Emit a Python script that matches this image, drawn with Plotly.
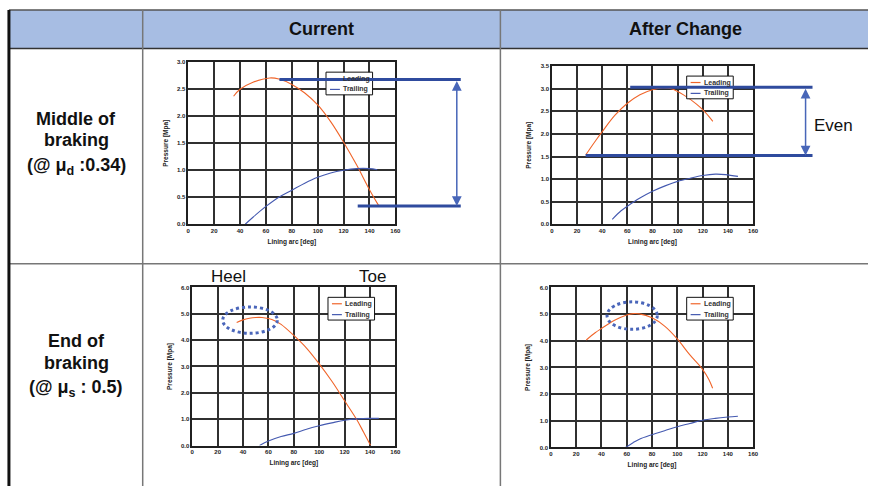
import plotly.graph_objects as go

# ---------------- data ----------------
x_ticks = [0, 20, 40, 60, 80, 100, 120, 140, 160]
series_names = ["Leading", "Trailing"]

# Current, middle of braking
cur_mid_lead_x = [35, 40, 50, 63, 70, 80, 90, 100, 110, 120, 130, 140, 147]
cur_mid_lead_y = [2.37, 2.50, 2.63, 2.71, 2.69, 2.59, 2.43, 2.21, 1.90, 1.52, 1.10, 0.64, 0.35]
cur_mid_trail_x = [44, 50, 60, 70, 80, 90, 100, 110, 120, 130, 140, 146]
cur_mid_trail_y = [0.00, 0.13, 0.33, 0.50, 0.63, 0.76, 0.87, 0.95, 1.00, 1.03, 1.03, 1.01]

# After change, middle of braking
new_mid_lead_x = [27, 35, 40, 50, 60, 70, 80, 88, 95, 105, 115, 122, 128]
new_mid_lead_y = [1.54, 1.86, 2.05, 2.41, 2.68, 2.87, 2.98, 3.02, 3.00, 2.86, 2.66, 2.48, 2.28]
new_mid_trail_x = [48, 55, 60, 70, 80, 90, 100, 110, 120, 130, 138, 148]
new_mid_trail_y = [0.11, 0.30, 0.40, 0.58, 0.73, 0.85, 0.95, 1.02, 1.08, 1.11, 1.10, 1.06]

# Current, end of braking
cur_end_lead_x = [35, 40, 45, 50, 55, 60, 65, 70, 80, 90, 100, 110, 120, 130, 135, 140.5]
cur_end_lead_y = [4.67, 4.77, 4.83, 4.86, 4.86, 4.82, 4.74, 4.60, 4.18, 3.70, 3.10, 2.44, 1.70, 0.95, 0.50, 0.00]
cur_end_trail_x = [53, 60, 70, 80, 90, 100, 110, 120, 130, 140, 147]
cur_end_trail_y = [0.00, 0.17, 0.34, 0.46, 0.62, 0.75, 0.86, 0.96, 1.01, 1.03, 1.03]

# After change, end of braking
new_end_lead_x = [28, 35, 40, 50, 60, 65, 70, 80, 90, 100, 110, 120, 125, 128]
new_end_lead_y = [4.03, 4.30, 4.46, 4.76, 4.97, 5.02, 5.01, 4.86, 4.55, 4.07, 3.47, 2.93, 2.55, 2.22]
new_end_trail_x = [59, 65, 70, 80, 90, 100, 110, 120, 130, 140, 148]
new_end_trail_y = [0.00, 0.18, 0.31, 0.48, 0.63, 0.78, 0.90, 1.02, 1.09, 1.14, 1.17]

col_headers = ["Current", "After Change"]
row_headers = [["Middle of", "braking", "(@ μ<sub>d</sub> :0.34)"],
               ["End of", "braking", "(@ μ<sub>s</sub> : 0.5)"]]

# ---------------- layout helpers ----------------
W, H = 874, 489
FONT = "Arial, Liberation Sans, sans-serif"
LEAD_C = "#F0652A"
TRAIL_C = "#4459B0"
NAVY = "#2F4B9E"


def px(x):
    return x / W


def py(y):
    return 1 - y / H


fig = go.Figure()

panels = [
    # (xaxis id, yaxis id, x domain px, y domain px, yrange, dtick, data, legend box px)
    ("x", "y", (188, 397), (60, 224), [0, 3.0], 0.5,
     (cur_mid_lead_x, cur_mid_lead_y, cur_mid_trail_x, cur_mid_trail_y), (327, 70)),
    ("x2", "y2", (555, 758), (64, 224), [0, 3.5], 0.5,
     (new_mid_lead_x, new_mid_lead_y, new_mid_trail_x, new_mid_trail_y), (691, 74)),
    ("x3", "y3", (192, 397), (288, 448), [0, 6.0], 1.0,
     (cur_end_lead_x, cur_end_lead_y, cur_end_trail_x, cur_end_trail_y), (329, 298)),
    ("x4", "y4", (554, 758), (288, 450), [0, 6.0], 1.0,
     (new_end_lead_x, new_end_lead_y, new_end_trail_x, new_end_trail_y), (691, 298)),
]

shapes = []
annotations = []
layout_axes = {}
for xa, ya, (xl, xr), (yt, yb), yr, dt, (lx, ly, tx, ty), (lgx, lgy) in panels:
    fig.add_trace(go.Scatter(x=lx, y=ly, mode="lines", name=series_names[0],
                             line=dict(color=LEAD_C, width=1.1, shape="spline"),
                             xaxis=xa, yaxis=ya, showlegend=False))
    fig.add_trace(go.Scatter(x=tx, y=ty, mode="lines", name=series_names[1],
                             line=dict(color=TRAIL_C, width=1.1, shape="spline"),
                             xaxis=xa, yaxis=ya, showlegend=False))
    common = dict(showgrid=True, gridcolor="#303030", gridwidth=1.5,
                  showline=True, linecolor="#202020", linewidth=1.5, mirror=True,
                  ticks="", zeroline=False, fixedrange=True,
                  tickfont=dict(family=FONT, size=6, color="#222", weight="bold"))
    xkey = "xaxis" + xa[1:]
    ykey = "yaxis" + ya[1:]
    layout_axes[xkey] = dict(common, domain=[px(xl), px(xr)], anchor=ya, range=[0, 160],
                             tickvals=x_ticks, ticktext=[str(v) for v in x_ticks],
                             title=dict(text="Lining arc [deg]", standoff=6,
                                        font=dict(family=FONT, size=6.5, color="#222",
                                                  weight="bold")))
    layout_axes[ykey] = dict(common, domain=[py(yb), py(yt)], anchor=xa, range=yr,
                             dtick=dt, tickformat=".1f",
                             title=dict(text="Pressure [Mpa]", standoff=8,
                                        font=dict(family=FONT, size=6.5, color="#222",
                                                  weight="bold")))
    # hand-drawn compact legend box
    lw, lh = 47, 23
    shapes.append(dict(type="rect", xref="paper", yref="paper",
                       x0=px(lgx), x1=px(lgx + lw), y0=py(lgy + lh), y1=py(lgy),
                       fillcolor="white", line=dict(color="#111", width=1), layer="above"))
    for k, (nm, col) in enumerate(zip(series_names, (LEAD_C, TRAIL_C))):
        yy = lgy + 6.5 + k * 11
        shapes.append(dict(type="line", xref="paper", yref="paper",
                           x0=px(lgx + 4), x1=px(lgx + 14), y0=py(yy), y1=py(yy),
                           line=dict(color=col, width=1.2), layer="above"))
        annotations.append(dict(text=f"<b>{nm}</b>", xref="paper", yref="paper",
                                x=px(lgx + 15.5), y=py(yy), xanchor="left", yanchor="middle",
                                showarrow=False,
                                font=dict(family=FONT, size=7, color="#333")))

# table background / grid
shapes.append(dict(type="rect", xref="paper", yref="paper", x0=px(7), x1=1.0,
                   y0=py(46), y1=py(7), fillcolor="#A7BDE3", line=dict(width=0), layer="below"))
shapes.append(dict(type="line", xref="paper", yref="paper", x0=px(7), x1=1.0,
                   y0=py(7), y1=py(7), line=dict(color="#555", width=1.5)))
shapes.append(dict(type="line", xref="paper", yref="paper", x0=px(7), x1=1.0,
                   y0=py(46), y1=py(46), line=dict(color="#333", width=1.5)))
shapes.append(dict(type="line", xref="paper", yref="paper", x0=px(7), x1=1.0,
                   y0=py(264), y1=py(264), line=dict(color="#777", width=1.5)))
for cx in (142, 503):
    shapes.append(dict(type="line", xref="paper", yref="paper", x0=px(cx), x1=px(cx),
                       y0=py(7), y1=0, line=dict(color="#777", width=1.5)))
shapes.append(dict(type="line", xref="paper", yref="paper", x0=px(7), x1=px(7),
                   y0=py(7), y1=0, line=dict(color="#111", width=3)))

# level markers (top-left chart)
shapes.append(dict(type="line", xref="paper", yref="y", x0=px(280), x1=px(463),
                   y0=2.68, y1=2.68, line=dict(color=NAVY, width=3)))
shapes.append(dict(type="line", xref="paper", yref="y", x0=px(359), x1=px(463),
                   y0=0.34, y1=0.34, line=dict(color=NAVY, width=3)))
# level markers (top-right chart)
shapes.append(dict(type="line", xref="paper", yref="y2", x0=px(634), x1=px(818),
                   y0=3.035, y1=3.035, line=dict(color=NAVY, width=3)))
shapes.append(dict(type="line", xref="paper", yref="y2", x0=px(589), x1=px(818),
                   y0=1.52, y1=1.52, line=dict(color=NAVY, width=3)))
# dotted ellipses
shapes.append(dict(type="circle", xref="x3", yref="y3", x0=24, x1=67, y0=4.26, y1=5.26,
                   line=dict(color="#4A66BA", width=3, dash="dot")))
shapes.append(dict(type="circle", xref="x4", yref="y4", x0=44.4, x1=84.2, y0=4.43, y1=5.46,
                   line=dict(color="#4A66BA", width=3, dash="dot")))

# header texts
for text, cx in zip(col_headers, (322, 690)):
    annotations.append(dict(text=f"<b>{text}</b>", xref="paper", yref="paper",
                            x=px(cx), y=py(26), xanchor="center", yanchor="middle",
                            showarrow=False, font=dict(family=FONT, size=18, color="#111")))
# row headers
for lines, ys in zip(row_headers, ((117, 139, 166), (342, 364, 390))):
    for t, yy in zip(lines, ys):
        annotations.append(dict(text=f"<b>{t}</b>", xref="paper", yref="paper",
                                x=px(75), y=py(yy), xanchor="center", yanchor="middle",
                                showarrow=False, font=dict(family=FONT, size=18, color="#111")))
# double arrows
annotations.append(dict(text="", xref="paper", yref="y", x=px(459), y=0.34,
                        axref="pixel", ayref="y", ax=0, ay=2.68, showarrow=True,
                        arrowside="end+start", arrowhead=2, arrowsize=1.3,
                        arrowwidth=1.5, arrowcolor="#4866B8"))
annotations.append(dict(text="", xref="paper", yref="y2", x=px(811), y=1.52,
                        axref="pixel", ayref="y2", ax=0, ay=3.035, showarrow=True,
                        arrowside="end+start", arrowhead=2, arrowsize=1.3,
                        arrowwidth=1.5, arrowcolor="#4866B8"))
for t, cx, cy in (("Even", 839, 124), ("Heel", 229, 277), ("Toe", 374, 277)):
    annotations.append(dict(text=t, xref="paper", yref="paper", x=px(cx), y=py(cy),
                            xanchor="center", yanchor="middle", showarrow=False,
                            font=dict(family=FONT, size=17, color="#111")))

fig.update_layout(width=W, height=H, margin=dict(l=0, r=0, t=0, b=0),
                  paper_bgcolor="white", plot_bgcolor="white", showlegend=False,
                  shapes=shapes, annotations=annotations, **layout_axes)

fig.write_html("out.html", config={"displayModeBar": False},
               post_script="document.body.style.margin='0';document.body.style.overflow='hidden';")
